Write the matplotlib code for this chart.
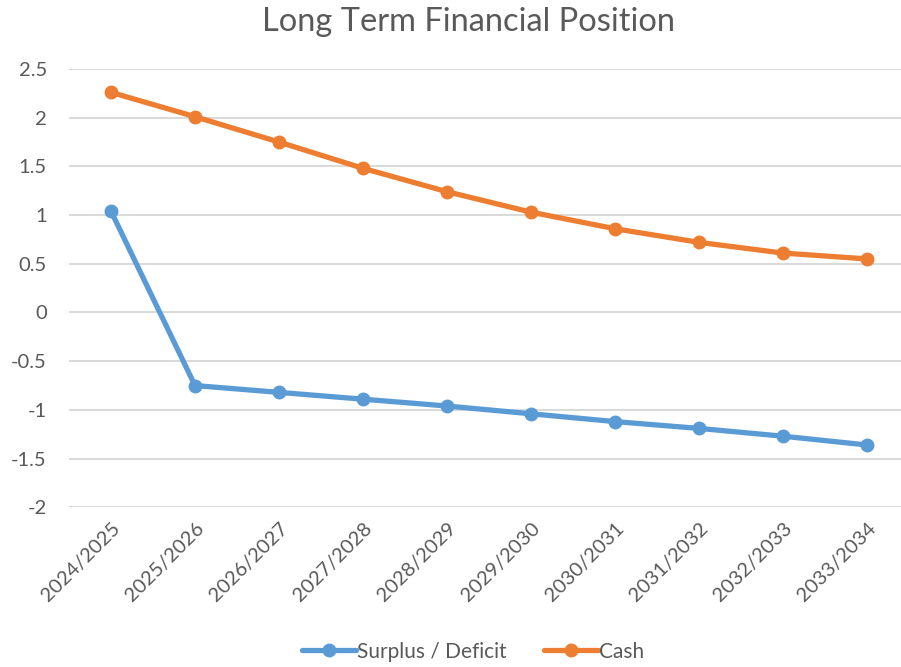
import matplotlib.pyplot as plt

# ---------------------- Данные ----------------------
years = ["2024/2025", "2025/2026", "2026/2027", "2027/2028", "2028/2029",
         "2029/2030", "2030/2031", "2031/2032", "2032/2033", "2033/2034"]
surplus = [1.04, -0.75, -0.82, -0.89, -0.96, -1.04, -1.12, -1.19, -1.27, -1.36]
cash = [2.26, 2.01, 1.75, 1.48, 1.24, 1.03, 0.86, 0.72, 0.61, 0.55]
y_ticks = [2.5, 2, 1.5, 1, 0.5, 0, -0.5, -1, -1.5, -2]

plt.rcParams['font.family'] = ['Lato', 'DejaVu Sans']
text_color = '#595959'

fig = plt.figure(figsize=(9.01, 6.67), dpi=100)
ax = fig.add_axes([0.0766, 0.2394, 0.9323, 0.6572])

x = list(range(len(years)))
ax.plot(x, surplus, color='#5B9BD5', lw=3.8, marker='o', ms=9,
        label='Surplus / Deficit', solid_capstyle='round', zorder=3)
ax.plot(x, cash, color='#ED7D31', lw=3.8, marker='o', ms=9,
        label='Cash', solid_capstyle='round', zorder=3)

ax.set_xlim(-0.5, len(years) - 0.5)
ax.set_ylim(-2, 2.5)
ax.set_yticks(y_ticks)
ax.set_yticklabels([f"{t:g}" for t in y_ticks])
ax.set_xticks(x)
ax.set_xticklabels(years, rotation=45, ha='right', rotation_mode='anchor')

ax.grid(axis='y', color='#D9D9D9', lw=1.4)
ax.set_axisbelow(True)
for s in ax.spines.values():
    s.set_visible(False)
ax.tick_params(length=0, colors=text_color, labelsize=14.5)
ax.tick_params(axis='y', pad=16)
ax.tick_params(axis='x', pad=9)

fig.suptitle("Long Term Financial Position", x=0.52, y=0.99,
             fontsize=23.5, color=text_color)

fig.legend(loc='lower center', bbox_to_anchor=(0.525, -0.02), ncol=2,
           frameon=False, fontsize=15, labelcolor=text_color,
           handlelength=2.6, columnspacing=1.8, handletextpad=0.05)

fig.savefig("out.png", dpi=100)
